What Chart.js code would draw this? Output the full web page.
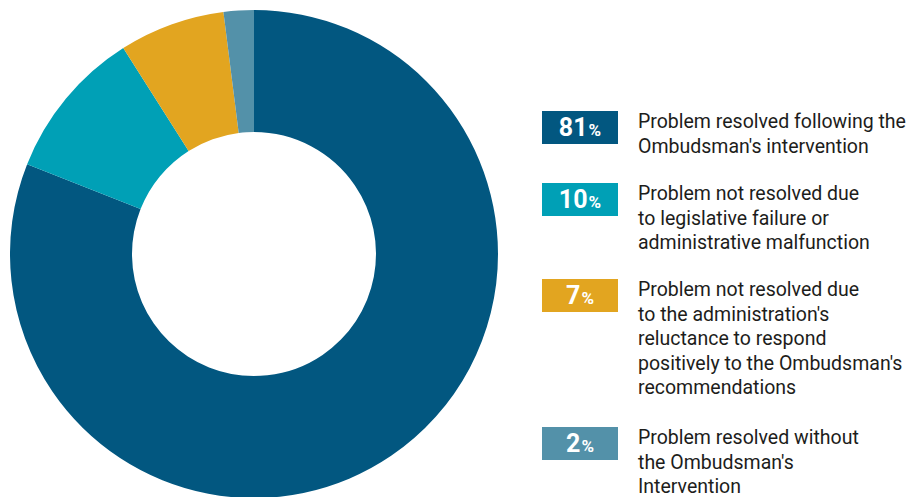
<!DOCTYPE html>
<html>
<head>
<meta charset="utf-8">
<script src="https://cdn.jsdelivr.net/npm/chart.js@4"></script>
<style>
    html, body {
        margin: 0;
        padding: 0;
        width: 908px;
        height: 497px;
        overflow: hidden;
        background: #ffffff;
        font-family: 'Roboto', 'Liberation Sans', sans-serif;
    }
    .chart-box {
        position: absolute;
        left: 10px;
        top: 10px;
        width: 488px;
        height: 488px;
    }
    .legend-item {
        position: absolute;
        left: 542px;
        display: flex;
    }
    .badge {
        width: 76px;
        height: 33px;
        color: #ffffff;
        display: flex;
        align-items: center;
        justify-content: center;
        font-weight: 700;
        font-size: 25px;
        flex-shrink: 0;
    }
    .badge small {
        font-size: 17px;
        font-weight: 700;
        margin-left: 1px;
        margin-top: 5px;
    }
    .legend-text {
        margin-left: 20px;
        margin-top: -1px;
        font-size: 19.5px;
        line-height: 24.5px;
        color: #1d1d1b;
        white-space: nowrap;
    }
</style>
</head>
<body>
<div class="chart-box"><canvas id="outcomeChart"></canvas></div>
<div id="legend"></div>

<script>
const shares = [81, 10, 7, 2];
const colors = ['#025780', '#00a0b6', '#e2a520', '#5391a9'];
const labelLines = [
    ['Problem resolved following the', 'Ombudsman\'s intervention'],
    ['Problem not resolved due', 'to legislative failure or', 'administrative malfunction'],
    ['Problem not resolved due', 'to the administration\'s', 'reluctance to respond', 'positively to the Ombudsman\'s', 'recommendations'],
    ['Problem resolved without', 'the Ombudsman\'s', 'Intervention']
];
const legendTops = [111, 183, 279, 427];

const buildLegend = () => {
    const container = document.getElementById('legend');
    shares.forEach((value, i) => {
        const item = document.createElement('div');
        item.className = 'legend-item';
        item.style.top = legendTops[i] + 'px';
        item.innerHTML = `
            <div class="badge" style="background:${colors[i]}">${value}<small>%</small></div>
            <div class="legend-text">${labelLines[i].join('<br>')}</div>
        `;
        container.appendChild(item);
    });
};

const buildChart = () => {
    const ctx = document.getElementById('outcomeChart').getContext('2d');
    new Chart(ctx, {
        type: 'doughnut',
        data: {
            labels: labelLines.map(lines => lines.join(' ')),
            datasets: [{
                data: shares,
                backgroundColor: colors,
                borderWidth: 0
            }]
        },
        options: {
            responsive: true,
            maintainAspectRatio: false,
            animation: false,
            cutout: '50%',
            layout: { padding: 0 },
            plugins: {
                legend: { display: false },
                tooltip: { enabled: false }
            }
        }
    });
};

buildLegend();
buildChart();
</script>
</body>
</html>
